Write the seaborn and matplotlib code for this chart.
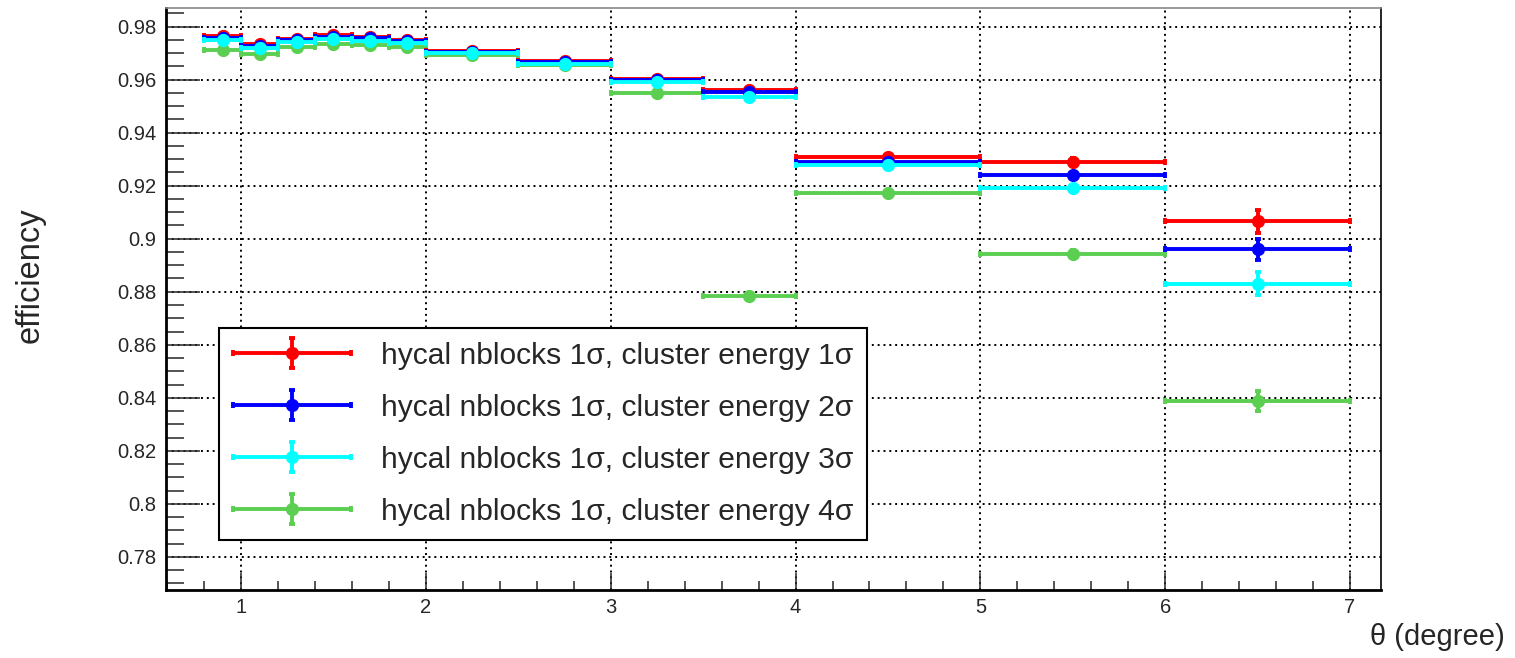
import numpy as np
import matplotlib
matplotlib.use("Agg")
import matplotlib.pyplot as plt
import seaborn as sns
from matplotlib.ticker import MultipleLocator
from matplotlib.container import ErrorbarContainer
from matplotlib.legend_handler import HandlerErrorbar

# bin edges in theta (degree)
edges = [0.8, 1.0, 1.2, 1.4, 1.6, 1.8, 2.0, 2.5, 3.0, 3.5, 4.0, 5.0, 6.0, 7.0]

labels = [
    "hycal nblocks 1σ, cluster energy 1σ",
    "hycal nblocks 1σ, cluster energy 2σ",
    "hycal nblocks 1σ, cluster energy 3σ",
    "hycal nblocks 1σ, cluster energy 4σ",
]

eff_1sig = [0.9765, 0.9735, 0.9755, 0.9768, 0.9762, 0.9750, 0.9708, 0.9669, 0.9604, 0.9559, 0.9307, 0.9291, 0.9066]
eff_2sig = [0.9758, 0.9727, 0.9749, 0.9762, 0.9756, 0.9744, 0.9705, 0.9666, 0.9599, 0.9553, 0.9290, 0.9239, 0.8960]
eff_3sig = [0.9750, 0.9719, 0.9743, 0.9753, 0.9747, 0.9738, 0.9702, 0.9660, 0.9591, 0.9536, 0.9278, 0.9190, 0.8830]
eff_4sig = [0.9711, 0.9698, 0.9722, 0.9735, 0.9731, 0.9724, 0.9694, 0.9657, 0.9551, 0.8785, 0.9171, 0.8943, 0.8388]

err_1sig = [0.0007, 0.0007, 0.0007, 0.0007, 0.0007, 0.0007, 0.0006, 0.0007, 0.0008, 0.0009, 0.0009, 0.0012, 0.0043]
err_2sig = [0.0007, 0.0007, 0.0007, 0.0007, 0.0007, 0.0007, 0.0006, 0.0007, 0.0008, 0.0009, 0.0010, 0.0013, 0.0040]
err_3sig = [0.0007, 0.0007, 0.0007, 0.0007, 0.0007, 0.0007, 0.0006, 0.0007, 0.0008, 0.0009, 0.0010, 0.0013, 0.0044]
err_4sig = [0.0008, 0.0008, 0.0008, 0.0008, 0.0008, 0.0008, 0.0007, 0.0008, 0.0009, 0.0012, 0.0011, 0.0014, 0.0036]

colors = ["#ff0000", "#0000ff", "#00ffff", "#5ccf52"]

sns.set_style("white")
plt.rcParams["font.family"] = ["Liberation Sans", "DejaVu Sans"]

edges = np.array(edges)
centers = (edges[:-1] + edges[1:]) / 2
halfw = (edges[1:] - edges[:-1]) / 2

fig = plt.figure(figsize=(15.15, 6.58), dpi=100)
ax = fig.add_axes([0.1096, 0.1033, 0.802, 0.8845])

series = [(eff_1sig, err_1sig, 3), (eff_2sig, err_2sig, 4), (eff_3sig, err_3sig, 5), (eff_4sig, err_4sig, 2)]
for (vals, errs, z), col, lab in zip(series, colors, labels):
    ax.errorbar(centers, vals, xerr=halfw, yerr=errs, fmt="o", color=col, ms=8.5,
                lw=2.8, elinewidth=2.8, capsize=2.5, capthick=2.8, label=lab, zorder=z)

ax.set_xlim(0.594, 7.168)
ax.set_ylim(0.7675, 0.987)

ax.xaxis.set_major_locator(MultipleLocator(1))
ax.xaxis.set_minor_locator(MultipleLocator(0.2))
ax.yaxis.set_major_locator(MultipleLocator(0.02))
ax.yaxis.set_minor_locator(MultipleLocator(0.005))
ax.yaxis.set_major_formatter(matplotlib.ticker.FuncFormatter(lambda v, p: ("%.2f" % v).rstrip("0").rstrip(".")))

ax.tick_params(axis="x", which="major", direction="in", length=12, width=1.1, labelsize=14.5, pad=6,
               top=False, bottom=True)
ax.tick_params(axis="x", which="minor", direction="in", length=6.5, width=1.1, top=False, bottom=True)
ax.tick_params(axis="y", which="major", direction="in", length=24.5, width=1.1, labelsize=14.5, pad=7,
               right=False, left=True)
ax.tick_params(axis="y", which="minor", direction="in", length=13, width=1.1, right=False, left=True)

ax.grid(True, which="major", color="black", linestyle=(0, (1, 2)), linewidth=1.4)
ax.set_axisbelow(True)

for side in ["left", "bottom"]:
    ax.spines[side].set_linewidth(2)
    ax.spines[side].set_color("black")
ax.spines["right"].set_linewidth(1.2)
ax.spines["right"].set_color("black")
ax.spines["top"].set_linewidth(1.2)
ax.spines["top"].set_color("#888888")

fig.text(0.0198, 0.582, "efficiency", rotation=90, ha="center", va="center", fontsize=23.5)
fig.text(0.9934, 0.032, "θ (degree)", ha="right", va="center", fontsize=21)

leg = ax.legend(loc="lower left", bbox_to_anchor=(0.0436, 0.0859), borderaxespad=0,
                fontsize=21.6, handlelength=3.95, handletextpad=0.97, labelspacing=0.80,
                borderpad=0.47, fancybox=False, frameon=True, framealpha=1,
                handler_map={ErrorbarContainer: HandlerErrorbar(xerr_size=1.97, yerr_size=0.5)})
leg.get_frame().set_edgecolor("black")
leg.get_frame().set_linewidth(1.5)
leg.set_zorder(10)

fig.savefig("out.png", dpi=100)
